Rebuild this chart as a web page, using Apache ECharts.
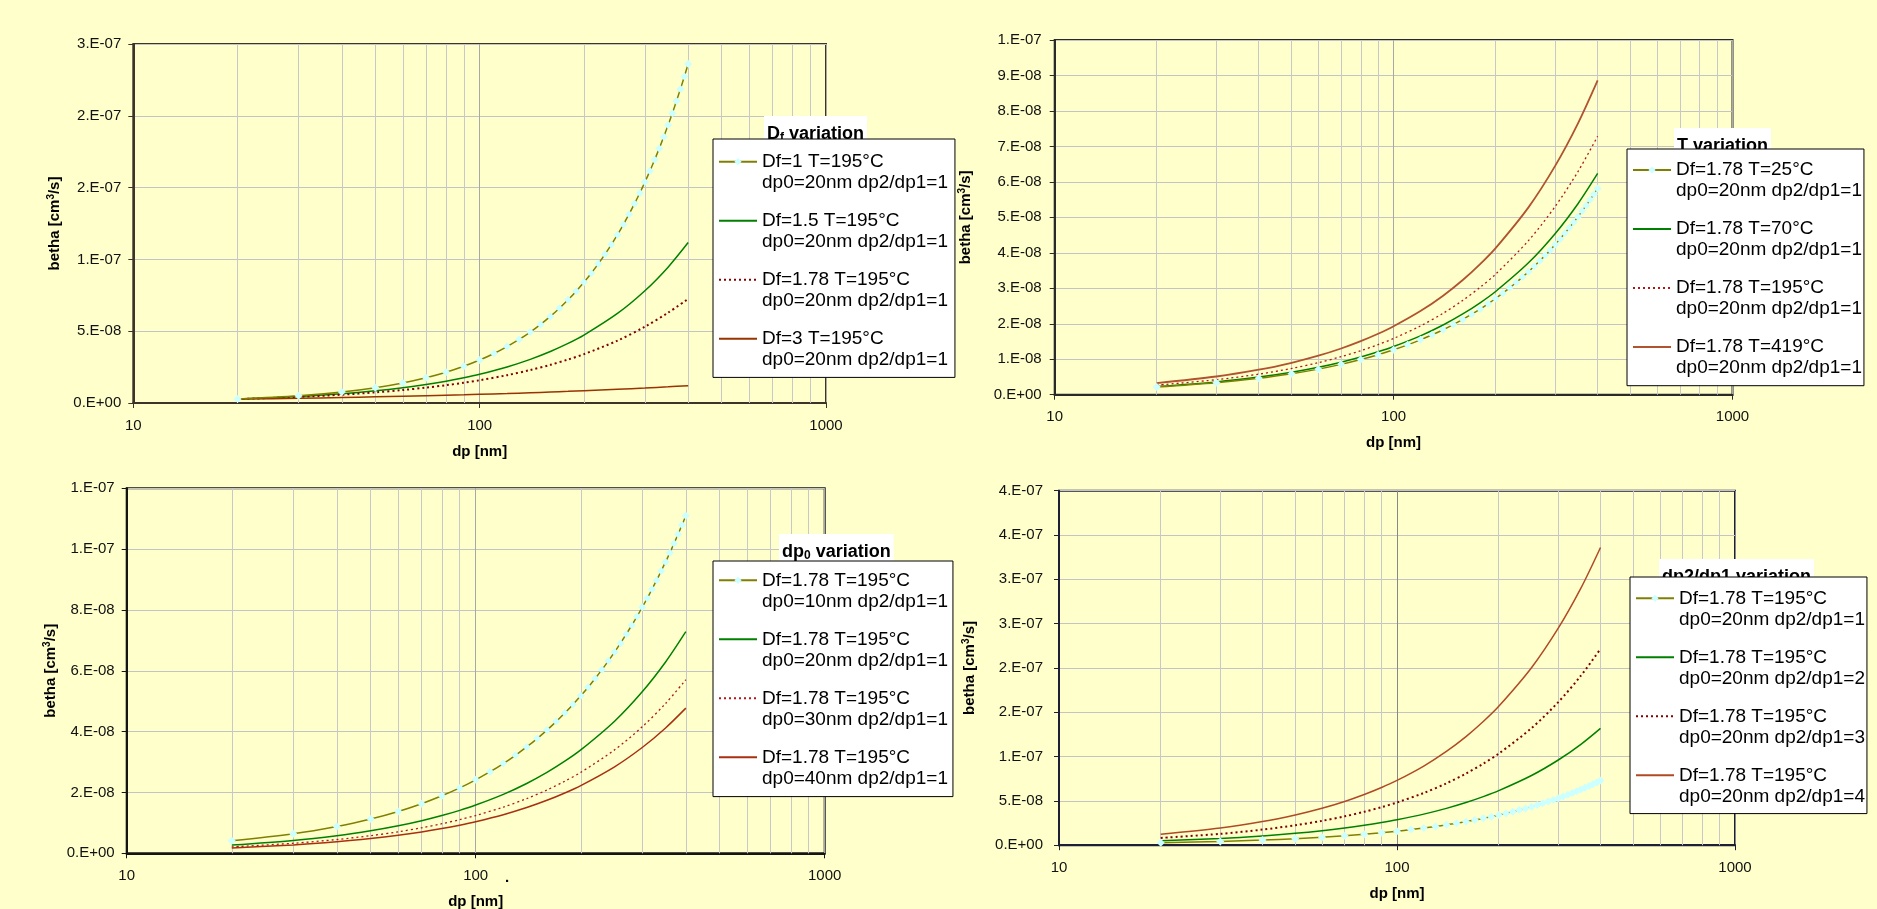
<!DOCTYPE html>
<html>
<head>
<meta charset="utf-8">
<script src="https://cdn.jsdelivr.net/npm/echarts@6/dist/echarts.min.js"></script>
<style>
html,body{margin:0;padding:0;background:#FFFFCC;width:1877px;height:909px;overflow:hidden;}
.c{position:absolute;left:0;top:0;width:1877px;height:909px;}
</style>
</head>
<body>
<div id="c1" class="c"></div>
<div id="c2" class="c"></div>
<div id="c3" class="c"></div>
<div id="c4" class="c"></div>
<script>
// ---------------- DATA ----------------
const dpMarker = [20,30,40,50,60,70,80,90,100,110,120,130,140,150,160,170,180,190,200,210,220,230,240,250,260,270,280,290,300,310,320,330,340,350,360,370,380,390,400];
const dpLine = [20,30,40,50,60,70,80,90,100,120,140,160,180,200,250,300,350,400];
const minorGridX = [20,30,40,50,60,70,80,90,200,300,400,500,600,700,800,900];
const xTickLabels = ['10','100','1000'];

// Panel 1 : Df variation
const p1Names = ['Df=1 T=195°C\ndp0=20nm dp2/dp1=1','Df=1.5 T=195°C\ndp0=20nm dp2/dp1=1','Df=1.78 T=195°C\ndp0=20nm dp2/dp1=1','Df=3 T=195°C\ndp0=20nm dp2/dp1=1'];
const p1Df1 = [2.72e-9,4.98e-9,7.64e-9,1.065e-8,1.398e-8,1.759e-8,2.146e-8,2.558e-8,2.992e-8,3.449e-8,3.928e-8,4.423e-8,4.940e-8,5.475e-8,6.028e-8,6.599e-8,7.184e-8,7.787e-8,8.408e-8,9.041e-8,9.689e-8,1.0352e-7,1.1030e-7,1.1720e-7,1.2428e-7,1.3146e-7,1.3880e-7,1.4623e-7,1.5382e-7,1.6149e-7,1.6932e-7,1.7729e-7,1.8534e-7,1.9353e-7,2.0182e-7,2.1023e-7,2.1874e-7,2.2736e-7,2.3610e-7];
const p1Df15 = [2.72e-9,4.50e-9,6.42e-9,8.47e-9,1.062e-8,1.286e-8,1.518e-8,1.756e-8,2.001e-8,2.509e-8,3.038e-8,3.585e-8,4.148e-8,4.727e-8,6.234e-8,7.815e-8,9.460e-8,1.1171e-7];
const p1Df178 = [2.70e-9,4.22e-9,5.79e-9,7.40e-9,9.04e-9,1.071e-8,1.241e-8,1.412e-8,1.586e-8,1.938e-8,2.296e-8,2.659e-8,3.027e-8,3.399e-8,4.344e-8,5.311e-8,6.291e-8,7.250e-8];
const p1Df3 = [2.70e-9,3.31e-9,3.82e-9,4.27e-9,4.68e-9,5.05e-9,5.40e-9,5.73e-9,6.04e-9,6.61e-9,7.14e-9,7.64e-9,8.10e-9,8.54e-9,9.55e-9,1.046e-8,1.129e-8,1.207e-8];
const p1YLabels = ['0.E+00','5.E-08','1.E-07','2.E-07','2.E-07','3.E-07'];

// Panel 2 : T variation
const p2Names = ['Df=1.78 T=25°C\ndp0=20nm dp2/dp1=1','Df=1.78 T=70°C\ndp0=20nm dp2/dp1=1','Df=1.78 T=195°C\ndp0=20nm dp2/dp1=1','Df=1.78 T=419°C\ndp0=20nm dp2/dp1=1'];
const p2T25 = [2.15e-9,3.37e-9,4.62e-9,5.91e-9,7.21e-9,8.55e-9,9.90e-9,1.127e-8,1.266e-8,1.405e-8,1.547e-8,1.689e-8,1.832e-8,1.977e-8,2.122e-8,2.269e-8,2.415e-8,2.564e-8,2.712e-8,2.862e-8,3.012e-8,3.163e-8,3.316e-8,3.467e-8,3.620e-8,3.775e-8,3.928e-8,4.081e-8,4.238e-8,4.393e-8,4.549e-8,4.706e-8,4.863e-8,5.020e-8,5.177e-8,5.337e-8,5.497e-8,5.654e-8,5.815e-8];
const p2T70 = [2.31e-9,3.61e-9,4.96e-9,6.33e-9,7.74e-9,9.17e-9,1.062e-8,1.209e-8,1.358e-8,1.659e-8,1.965e-8,2.276e-8,2.591e-8,2.910e-8,3.718e-8,4.546e-8,5.385e-8,6.238e-8];
const p2T195 = [2.70e-9,4.22e-9,5.79e-9,7.40e-9,9.04e-9,1.071e-8,1.241e-8,1.412e-8,1.586e-8,1.938e-8,2.296e-8,2.659e-8,3.027e-8,3.399e-8,4.344e-8,5.311e-8,6.291e-8,7.287e-8];
const p2T419 = [3.28e-9,5.13e-9,7.04e-9,9.00e-9,1.099e-8,1.302e-8,1.509e-8,1.717e-8,1.929e-8,2.357e-8,2.792e-8,3.233e-8,3.681e-8,4.133e-8,5.282e-8,6.458e-8,7.650e-8,8.861e-8];
const p2YLabels = ['0.E+00','1.E-08','2.E-08','3.E-08','4.E-08','5.E-08','6.E-08','7.E-08','8.E-08','9.E-08','1.E-07'];

// Panel 3 : dp0 variation
const p3Names = ['Df=1.78 T=195°C\ndp0=10nm dp2/dp1=1','Df=1.78 T=195°C\ndp0=20nm dp2/dp1=1','Df=1.78 T=195°C\ndp0=30nm dp2/dp1=1','Df=1.78 T=195°C\ndp0=40nm dp2/dp1=1'];
const p3Dp10 = [4.11e-9,6.43e-9,8.82e-9,1.127e-8,1.377e-8,1.631e-8,1.890e-8,2.150e-8,2.415e-8,2.682e-8,2.952e-8,3.223e-8,3.497e-8,3.772e-8,4.050e-8,4.330e-8,4.610e-8,4.893e-8,5.177e-8,5.462e-8,5.749e-8,6.037e-8,6.328e-8,6.616e-8,6.908e-8,7.204e-8,7.496e-8,7.789e-8,8.089e-8,8.384e-8,8.681e-8,8.981e-8,9.281e-8,9.581e-8,9.881e-8,1.0186e-7,1.0490e-7,1.0790e-7,1.1098e-7];
const p3Dp20 = [2.70e-9,4.22e-9,5.79e-9,7.40e-9,9.04e-9,1.071e-8,1.241e-8,1.412e-8,1.586e-8,1.938e-8,2.296e-8,2.659e-8,3.027e-8,3.399e-8,4.344e-8,5.311e-8,6.291e-8,7.287e-8];
const p3Dp30 = [2.11e-9,3.30e-9,4.53e-9,5.79e-9,7.08e-9,8.39e-9,9.72e-9,1.106e-8,1.242e-8,1.517e-8,1.798e-8,2.082e-8,2.370e-8,2.661e-8,3.401e-8,4.159e-8,4.926e-8,5.706e-8];
const p3Dp40 = [1.77e-9,2.76e-9,3.79e-9,4.85e-9,5.92e-9,7.02e-9,8.13e-9,9.25e-9,1.039e-8,1.269e-8,1.504e-8,1.742e-8,1.983e-8,2.226e-8,2.845e-8,3.479e-8,4.121e-8,4.773e-8];
const p3YLabels = ['0.E+00','2.E-08','4.E-08','6.E-08','8.E-08','1.E-07','1.E-07'];

// Panel 4 : dp2/dp1 variation
const p4Names = ['Df=1.78 T=195°C\ndp0=20nm dp2/dp1=1','Df=1.78 T=195°C\ndp0=20nm dp2/dp1=2','Df=1.78 T=195°C\ndp0=20nm dp2/dp1=3','Df=1.78 T=195°C\ndp0=20nm dp2/dp1=4'];
const p4R1 = [2.70e-9,4.22e-9,5.79e-9,7.40e-9,9.04e-9,1.071e-8,1.241e-8,1.412e-8,1.586e-8,1.761e-8,1.938e-8,2.116e-8,2.296e-8,2.477e-8,2.659e-8,2.843e-8,3.027e-8,3.213e-8,3.399e-8,3.586e-8,3.775e-8,3.964e-8,4.155e-8,4.344e-8,4.536e-8,4.730e-8,4.922e-8,5.114e-8,5.311e-8,5.505e-8,5.700e-8,5.897e-8,6.094e-8,6.291e-8,6.488e-8,6.688e-8,6.888e-8,7.085e-8,7.287e-8];
const p4R2 = [4.89e-9,7.64e-9,1.048e-8,1.339e-8,1.636e-8,1.939e-8,2.246e-8,2.556e-8,2.871e-8,3.508e-8,4.156e-8,4.813e-8,5.479e-8,6.152e-8,7.863e-8,9.613e-8,1.1387e-7,1.3189e-7];
const p4R3 = [8.21e-9,1.283e-8,1.760e-8,2.250e-8,2.748e-8,3.256e-8,3.773e-8,4.292e-8,4.821e-8,5.892e-8,6.980e-8,8.083e-8,9.202e-8,1.0333e-7,1.3206e-7,1.6145e-7,1.9125e-7,2.2152e-7];
const p4R4 = [1.245e-8,1.945e-8,2.669e-8,3.411e-8,4.167e-8,4.937e-8,5.721e-8,6.509e-8,7.311e-8,8.934e-8,1.0585e-7,1.2258e-7,1.3954e-7,1.5669e-7,2.0026e-7,2.4484e-7,2.9002e-7,3.3593e-7];
const p4YLabels = ['0.E+00','5.E-08','1.E-07','2.E-07','2.E-07','3.E-07','3.E-07','4.E-07','4.E-07'];

// ---------------- STYLE / LAYOUT ----------------
const FONT = '"Liberation Sans", Arial, Helvetica, sans-serif';
const BG = '#FFFFCC';
const OLIVE = '#808000', CYAN = '#CCFFFF', GREEN = '#008000';

const panels = [
  { el:'c1', grid:{left:133.3, top:44, width:692.7, height:359}, frame:'#3d3329', major:'#a8a8a8',
    yMax:2.5e-7, yInt:5e-8, yLabels:p1YLabels, yMargin:12, yNameGap:70,
    title:'{m|D}{s|f}{m| variation}', titleLeft:764, titleTop:116,
    legend:{left:713, top:139, pad:[-8.8,7,7.2,5]}, names:p1Names,
    series:[
      {x:dpMarker, y:p1Df1, color:OLIVE, width:1.5, marker:true},
      {x:dpLine, y:p1Df15, color:GREEN, width:1.5},
      {x:dpLine, y:p1Df178, color:'#800000', width:2, dash:[2,3]},
      {x:dpLine, y:p1Df3, color:'#993300', width:1.5}
    ]},
  { el:'c2', grid:{left:1054.7, top:40, width:677.8, height:354.7}, frame:'#2a2a2a', major:'#a8a8a8',
    yMax:1e-7, yInt:1e-8, yLabels:p2YLabels, yMargin:13, yNameGap:80,
    title:'{m|T variation}', titleLeft:1674, titleTop:128,
    legend:{left:1627, top:149, pad:[-10.5,2,7.2,5]}, names:p2Names,
    series:[
      {x:dpMarker, y:p2T25, color:OLIVE, width:1.5, marker:true},
      {x:dpLine, y:p2T70, color:GREEN, width:1.5},
      {x:dpLine, y:p2T195, color:'#b01818', width:1.3, dash:[2,3]},
      {x:dpLine, y:p2T419, color:'#b0532f', width:1.8}
    ]},
  { el:'c3', grid:{left:126.7, top:488.3, width:698, height:365}, frame:'#141414', major:'#a8a8a8',
    yMax:1.2e-7, yInt:2e-8, yLabels:p3YLabels, yMargin:12, yNameGap:67,
    title:'{m|dp}{s|0}{m| variation}', titleLeft:779, titleTop:534,
    legend:{left:713, top:561, pad:[-12.2,5,7.8,5]}, names:p3Names,
    series:[
      {x:dpMarker, y:p3Dp10, color:OLIVE, width:1.5, marker:true},
      {x:dpLine, y:p3Dp20, color:GREEN, width:1.5},
      {x:dpLine, y:p3Dp30, color:'#b01818', width:1.3, dash:[2,3]},
      {x:dpLine, y:p3Dp40, color:'#a83010', width:1.5}
    ],
    extra:[{type:'text', style:{text:'.', x:507, y:885, align:'center', verticalAlign:'bottom', font:'bold 15px '+FONT, fill:'#000'}}]},
  { el:'c4', grid:{left:1059, top:490.7, width:676, height:354.5}, frame:'#1e1e36', major:'#888888',
    yMax:4e-7, yInt:5e-8, yLabels:p4YLabels, yMargin:16, yNameGap:81,
    title:'{m|dp2/dp1 variation}', titleLeft:1659, titleTop:559,
    legend:{left:1630, top:577, pad:[-10.2,2,6.8,5]}, names:p4Names,
    series:[
      {x:dpMarker, y:p4R1, color:OLIVE, width:1.5, marker:true},
      {x:dpLine, y:p4R2, color:GREEN, width:1.5},
      {x:dpLine, y:p4R3, color:'#800000', width:2, dash:[2,3]},
      {x:dpLine, y:p4R4, color:'#b04a25', width:1.5}
    ]}
];

function buildOption(p, idx) {
  const series = p.series.map((s, i) => {
    const o = {
      name: p.names[i], type: 'line',
      data: s.x.map((x, k) => [x, s.y[k]]),
      smooth: 0.3,
      symbol: s.marker ? 'diamond' : 'none', symbolSize: 8, showSymbol: !!s.marker,
      lineStyle: {color: s.color, width: s.width, type: s.dash || 'solid'},
      itemStyle: {color: s.marker ? CYAN : s.color},
      emphasis: {disabled: true}, silent: true, animation: false,
      z: s.marker ? 4 : 3
    };
    if (i === 0) {
      o.markLine = {
        silent: true, symbol: ['none','none'], animation: false, z: 1,
        label: {show: false}, emphasis: {disabled: true},
        lineStyle: {color: '#c8c8c8', width: 1, type: 'solid'},
        data: minorGridX.map(v => ({xAxis: v}))
      };
    }
    return o;
  });
  return {
    backgroundColor: idx === 0 ? BG : 'transparent',
    animation: false,
    textStyle: {fontFamily: FONT},
    title: {
      text: p.title, left: p.titleLeft, top: p.titleTop, padding: [9,3,0,3],
      backgroundColor: '#ffffff', z: 3,
      textStyle: {
        rich: {
          m: {fontFamily: FONT, fontSize: 18, fontWeight: 'bold', color: '#000', lineHeight: 14, verticalAlign: 'top'},
          s: {fontFamily: FONT, fontSize: 12, fontWeight: 'bold', color: '#000', lineHeight: 19, verticalAlign: 'bottom'}
        }
      }
    },
    legend: {
      orient: 'vertical', left: p.legend.left, top: p.legend.top,
      padding: p.legend.pad, itemWidth: 38, itemHeight: 9, itemGap: -4,
      backgroundColor: '#ffffff', borderColor: '#000', borderWidth: 1, borderRadius: 0,
      selectedMode: false, z: 4,
      formatter: name => '\n' + name,
      textStyle: {fontFamily: FONT, fontSize: 19, lineHeight: 21, color: '#000'},
      data: p.names.map((n, i) => p.series[i].marker ? {name: n} : {name: n, itemStyle: {opacity: 0}})
    },
    grid: Object.assign({show: true, backgroundColor: BG, borderColor: p.frame, borderWidth: 2, containLabel: false, outerBoundsMode: 'none'}, p.grid),
    xAxis: {
      type: 'log', logBase: 10, min: 10, max: 1000,
      name: 'dp [nm]', nameLocation: 'middle', nameGap: 40, nameMoveOverlap: false,
      nameTextStyle: {fontFamily: FONT, fontSize: 15, fontWeight: 'bold', color: '#000', lineHeight: 17},
      axisLine: {show: true, onZero: false, lineStyle: {color: p.frame, width: 2}},
      axisTick: {show: true, inside: false, length: 5, lineStyle: {color: p.frame, width: 1}},
      axisLabel: {margin: 15, fontFamily: FONT, fontSize: 15, color: '#111',
        formatter: v => xTickLabels[Math.round(Math.log10(v)) - 1] || ''},
      splitLine: {show: true, lineStyle: {color: p.major, width: 1}},
      minorTick: {show: false}, minorSplitLine: {show: false}
    },
    yAxis: {
      type: 'value', min: 0, max: p.yMax, interval: p.yInt,
      name: 'betha [cm{sup|3}/s]', nameLocation: 'middle', nameGap: p.yNameGap, nameRotate: 90, nameMoveOverlap: false,
      nameTextStyle: {fontFamily: FONT, fontSize: 15, fontWeight: 'bold', color: '#000', lineHeight: 17,
        rich: {sup: {fontFamily: FONT, fontSize: 10, fontWeight: 'bold', color: '#000', lineHeight: 10, verticalAlign: 'top'}}},
      axisLine: {show: true, lineStyle: {color: p.frame, width: 2}},
      axisTick: {show: true, inside: false, length: 5, lineStyle: {color: p.frame, width: 1}},
      axisLabel: {margin: p.yMargin, fontFamily: FONT, fontSize: 15, color: '#111',
        formatter: v => p.yLabels[Math.round(v / p.yInt)] || ''},
      splitLine: {show: true, lineStyle: {color: '#c4c4c4', width: 1}}
    },
    graphic: p.extra || [],
    series: series
  };
}

panels.forEach((p, idx) => {
  const chart = echarts.init(document.getElementById(p.el), null, {renderer: 'canvas', width: 1877, height: 909});
  chart.setOption(buildOption(p, idx));
});
</script>
</body>
</html>
